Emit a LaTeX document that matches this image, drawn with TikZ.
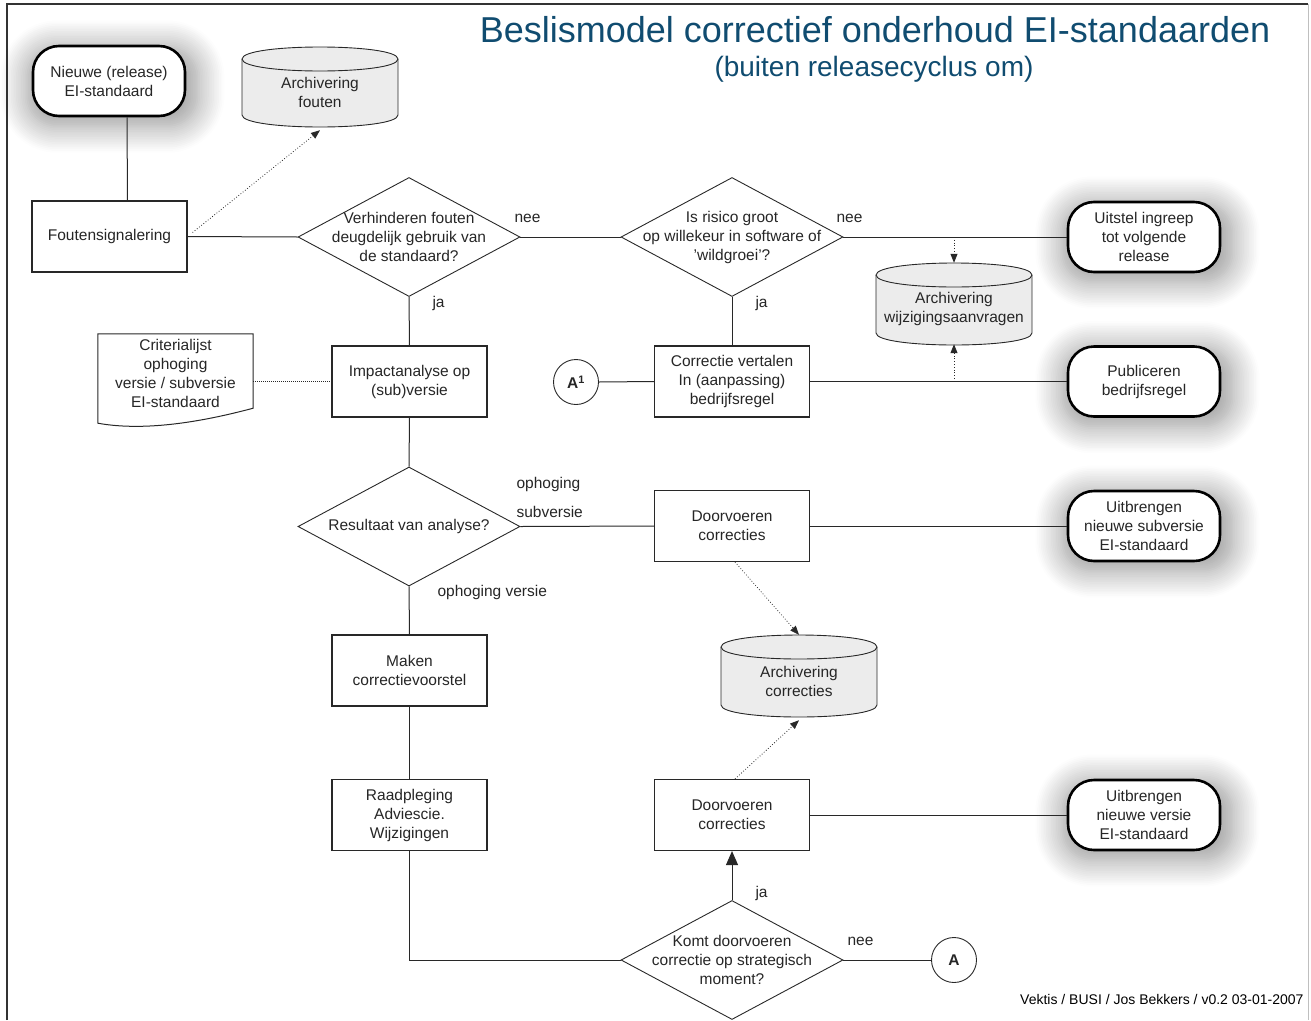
\documentclass[tikz,border=0pt]{standalone}
\usepackage{fontspec}
\setmainfont{Liberation Sans}
\usepackage{tikz}
\usetikzlibrary{shapes.geometric}
\usetikzlibrary{shadows.blur}
\usetikzlibrary{arrows.meta}

\definecolor{titelblauw}{RGB}{16,76,112}
\definecolor{archief}{RGB}{236,236,236}
\definecolor{lijn}{RGB}{40,40,40}

\tikzset{
	tekst/.style={font=\fontsize{15.5}{19}\selectfont, align=center, text=black!85},
	stap/.style={tekst, draw=lijn, line width=1.1pt, fill=white, minimum width=155pt, minimum height=71pt, inner sep=0pt},
	eind/.style={tekst, draw=black, line width=2.6pt, fill=white, rounded corners=26pt, minimum width=152pt, minimum height=70pt, inner sep=0pt,
		blur shadow={shadow xshift=3pt, shadow yshift=-5pt, shadow scale=1.12, shadow blur radius=24pt, shadow blur steps=16, shadow opacity=42}},
	keuze/.style={diamond, draw=lijn, line width=0.9pt, minimum width=222pt, minimum height=119pt, inner sep=0pt},
	archiefvat/.style={minimum width=158pt, minimum height=84pt, inner sep=0pt, path picture={
		\filldraw[draw=lijn, line width=0.9pt, fill=archief]
			([shift={(1pt,-13pt)}]path picture bounding box.north west) -- ([shift={(1pt,13pt)}]path picture bounding box.south west)
			.. controls +(0pt,-16pt) and +(0pt,-16pt) .. ([shift={(-1pt,13pt)}]path picture bounding box.south east)
			-- ([shift={(-1pt,-13pt)}]path picture bounding box.north east)
			.. controls +(0pt,16pt) and +(0pt,16pt) .. ([shift={(1pt,-13pt)}]path picture bounding box.north west) -- cycle;
		\draw[draw=lijn, line width=0.9pt] ([shift={(1pt,-13pt)}]path picture bounding box.north west)
			.. controls +(0pt,-16pt) and +(0pt,-16pt) .. ([shift={(-1pt,-13pt)}]path picture bounding box.north east);
	}},
	vattekst/.style={tekst, yshift=-5pt},
	verbinder/.style={tekst, circle, draw=lijn, line width=0.9pt, minimum size=45pt, inner sep=0pt},
	lijntje/.style={draw=lijn, line width=1pt},
	stippel/.style={draw=lijn, line width=0.8pt, dotted, -{Triangle[length=9pt,width=7pt]}},
	antw/.style={tekst, anchor=west},
}

\begin{document}
\begin{tikzpicture}[x=1pt, y=-1pt]
		\useasboundingbox (0,0) rectangle (1311,1020);
		\draw[black!80, line width=1.2pt] (7,1020) -- (7,4) -- (1308,4);
		\draw[black!25, line width=0.8pt] (1308,4) -- (1308,1020);

		\node[font=\fontsize{36}{40}\selectfont, text=titelblauw] (titel) at (875,30) {Beslismodel correctief onderhoud EI-standaarden};
		\node[font=\fontsize{28}{32}\selectfont, text=titelblauw] (subtitel) at (874,69) {(buiten releasecyclus om)};
		\node[font=\fontsize{14}{16}\selectfont, anchor=east] (voet) at (1307,999) {Vektis / BUSI / Jos Bekkers / v0.2 03-01-2007};

		\node[eind] (nieuw) at (109,81) {Nieuwe (release)\\EI-standaard};
		\node[archiefvat, minimum height=82pt, label={[vattekst]center:{Archivering\\fouten}}] (arfout) at (320,87) {};
		\node[stap] (signaal) at (109.5,236.5) {Foutensignalering};
		\node[keuze, label={[tekst]center:{Verhinderen fouten\\deugdelijk gebruik van\\de standaard?}}] (vraag1) at (409,237) {};
		\node[keuze, label={[tekst]center:{Is risico groot\\op willekeur in software of\\'wildgroei'?}}] (vraag2) at (732,237) {};
		\node[eind] (uitstel) at (1144,237) {Uitstel ingreep\\tot volgende\\release};
		\node[archiefvat, label={[vattekst]center:{Archivering\\wijzigingsaanvragen}}] (arwijz) at (954,304) {};

		\node[tekst, minimum width=155pt, minimum height=78pt, inner sep=0pt] (crit) at (175.5,373) {Criterialijst\\ophoging\\versie / subversie\\EI-standaard};
		\draw[lijntje] (crit.north west) -- (crit.north east) -- ([yshift=4pt]crit.south east) .. controls +(-45,12) and +(50,9) .. ([yshift=-11pt]crit.south west) -- cycle;
		\node[stap] (impact) at (409.5,381.5) {Impactanalyse op\\(sub)versie};
		\node[verbinder] (a1) at (576,382) {\textbf{A\textsuperscript{1}}};
		\node[stap] (vertaal) at (732,381.5) {Correctie vertalen\\In (aanpassing)\\bedrijfsregel};
		\node[eind] (publ) at (1144,381.5) {Publiceren\\bedrijfsregel};

		\node[keuze, label={[tekst]center:{Resultaat van analyse?}}] (vraag3) at (409,526.5) {};
		\node[stap] (door1) at (732,526) {Doorvoeren\\correcties};
		\node[eind] (subv) at (1144,526) {Uitbrengen\\nieuwe subversie\\EI-standaard};

		\node[stap] (maken) at (409.5,670.5) {Maken\\correctievoorstel};
		\node[archiefvat, label={[vattekst]center:{Archivering\\correcties}}] (arcorr) at (799,676) {};
		\node[stap] (raad) at (409.5,815) {Raadpleging\\Adviescie.\\Wijzigingen};
		\node[stap] (door2) at (732,815) {Doorvoeren\\correcties};
		\node[eind] (versie) at (1144,815) {Uitbrengen\\nieuwe versie\\EI-standaard};
		\node[keuze, label={[tekst]center:{Komt doorvoeren\\correctie op strategisch\\moment?}}] (vraag4) at (732,960) {};
		\node[verbinder] (a) at (954,960) {\textbf{A}};

		\node[antw] (nee1) at (511,218) {nee};
		\node[antw] (ja1) at (429,303) {ja};
		\node[antw] (nee2) at (833,218) {nee};
		\node[antw] (ja2) at (752,303) {ja};
		\node[antw] (ophog1) at (513,484) {ophoging};
		\node[antw] (ophog2) at (513,512) {subversie};
		\node[antw] (ophog3) at (434,592) {ophoging versie};
		\node[antw] (ja3) at (752,893) {ja};
		\node[antw] (nee4) at (844,941) {nee};

		\draw[lijntje] ([xshift=18pt]nieuw.south) -- ([xshift=18pt]signaal.north);
		\draw[lijntje] (signaal.east) -- (vraag1.west);
		\draw[stippel] ([shift={(5pt,4pt)}]signaal.east) -- ([yshift=-2pt]arfout.south);
		\draw[lijntje] (vraag1.east) -- (vraag2.west);
		\draw[lijntje] (vraag2.east) -- (uitstel.west);
		\draw[stippel] (vraag2.east -| arwijz.north) -- ([yshift=-1pt]arwijz.north);
		\draw[lijntje] (vraag1.south) -- (impact.north);
		\draw[lijntje] (vraag2.south) -- (vertaal.north);
		\draw[lijntje, densely dotted, line width=0.6pt] (crit.east |- impact.west) -- (impact.west);
		\draw[lijntje] (a1.east) -- (vertaal.west);
		\draw[lijntje] (vertaal.east) -- (publ.west);
		\draw[stippel] (vertaal.east -| arwijz.south) -- ([yshift=2pt]arwijz.south);
		\draw[lijntje] (impact.south) -- (vraag3.north);
		\draw[lijntje] (vraag3.east) -- (door1.west);
		\draw[lijntje] (door1.east) -- (subv.west);
		\draw[stippel] ([xshift=3pt]door1.south) -- ([yshift=-1pt]arcorr.north);
		\draw[lijntje] (vraag3.south) -- (maken.north);
		\draw[lijntje] (maken.south) -- (raad.north);
		\draw[lijntje] (raad.south) |- (vraag4.west);
		\draw[lijntje, -{Triangle[length=14pt,width=12pt]}] (vraag4.north) -- (door2.south);
		\draw[stippel] ([xshift=3pt]door2.north) -- ([yshift=-2pt]arcorr.south);
		\draw[lijntje] (door2.east) -- (versie.west);
		\draw[lijntje] (vraag4.east) -- (a.west);
\end{tikzpicture}
\end{document}
